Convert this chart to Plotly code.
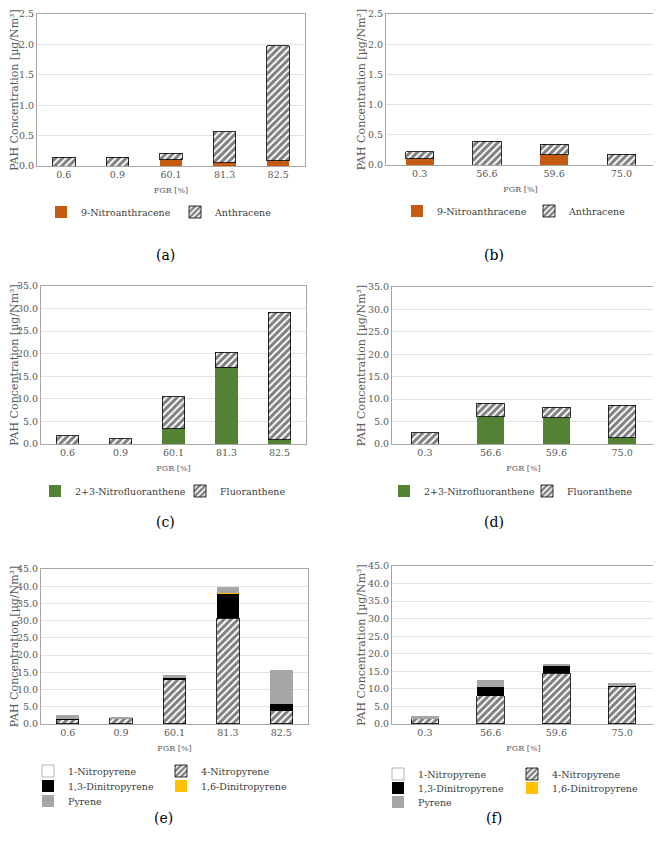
import plotly.graph_objects as go

# ---- data ----
fgr_left = ["0.6", "0.9", "60.1", "81.3", "82.5"]
fgr_right = ["0.3", "56.6", "59.6", "75.0"]

nitroanthracene_a = [0, 0, 0.10, 0.05, 0.09]
anthracene_a = [0.14, 0.14, 0.11, 0.51, 1.89]
nitroanthracene_b = [0.10, 0, 0.17, 0]
anthracene_b = [0.12, 0.39, 0.17, 0.18]

nitrofluoranthene_c = [0, 0, 3.4, 17.0, 0.9]
fluoranthene_c = [1.8, 1.2, 7.1, 3.3, 28.3]
nitrofluoranthene_d = [0, 6.1, 5.9, 1.4]
fluoranthene_d = [2.5, 3.0, 2.3, 7.2]

nitropyrene1_e = [0.05, 0.05, 0.1, 0.1, 0.05]
nitropyrene4_e = [1.2, 1.6, 12.9, 30.6, 3.8]
dinitropyrene13_e = [0.1, 0.05, 0.5, 7.2, 2.0]
dinitropyrene16_e = [0, 0, 0, 0.2, 0]
pyrene_e = [1.2, 0.15, 0.7, 1.8, 9.8]

nitropyrene1_f = [0.05, 0.1, 0.1, 0.05]
nitropyrene4_f = [1.4, 7.9, 14.3, 10.6]
dinitropyrene13_f = [0.05, 2.4, 2.3, 0.4]
dinitropyrene16_f = [0, 0, 0.1, 0]
pyrene_f = [0.9, 2.0, 0.4, 0.5]

FONT = "DejaVu Serif"
GREY = "#595959"
W, H = 661, 843
OFF = 8  # page body margin

hatch = dict(color="white",
             pattern=dict(shape="/", fgcolor="black", bgcolor="white", size=5, solidity=0.6),
             line=dict(color="black", width=0.8))


def solid(c, lc=None, lw=0):
    return dict(color=c, line=dict(color=lc or c, width=lw))


def px_x(v):
    return (v - OFF) / W


def px_y(v):
    return 1 - (v - OFF) / H


fig = go.Figure()

# panel boxes in page pixels: left, right, top, bottom
boxes = {
    1: (37, 305, 14, 166),
    2: (386, 655, 14, 165),
    3: (41, 306, 286, 444),
    4: (392, 655, 287, 444),
    5: (41, 308, 569, 724),
    6: (392, 655, 566, 724),
}
ranges = {1: 2.5, 2: 2.5, 3: 35, 4: 35, 5: 45, 6: 45}
dticks = {1: 0.5, 2: 0.5, 3: 5, 4: 5, 5: 5, 6: 5}

for i, (l, r, t, b) in boxes.items():
    sfx = "" if i == 1 else str(i)
    fig.layout["xaxis" + sfx] = dict(
        domain=[px_x(l), px_x(r)], anchor="y" + sfx, type="category",
        showline=True, linecolor="#A6A6A6", mirror=True, ticks="",
        tickfont=dict(family=FONT, size=9.5, color=GREY),
        title=dict(text="FGR [%]", font=dict(family=FONT, size=8, color=GREY), standoff=7),
        showgrid=False, zeroline=False, automargin=False,
    )
    fig.layout["yaxis" + sfx] = dict(
        domain=[px_y(b), px_y(t)], anchor="x" + sfx, range=[0, ranges[i]], dtick=dticks[i],
        tickformat=".1f", showline=True, linecolor="#A6A6A6", mirror=True, ticks="",
        gridcolor="#E3E3E3", gridwidth=1, zeroline=False, ticklabeloverflow="allow",
        tickfont=dict(family=FONT, size=9.5, color=GREY),
        title=dict(text="PAH Concentration [µg/Nm³]",
                   font=dict(family=FONT, size=11, color=GREY), standoff=0),
        automargin=False,
    )


def add(i, x, y, name, marker, legend):
    sfx = "" if i == 1 else str(i)
    fig.add_trace(go.Bar(x=x, y=y, name=name, marker=marker, xaxis="x" + sfx, yaxis="y" + sfx,
                         legend=legend, width=0.42))


ORANGE = "#C55A11"
GREEN = "#548235"
GOLD = "#FFC000"
PGREY = "#A6A6A6"

add(1, fgr_left, nitroanthracene_a, "9-Nitroanthracene", solid(ORANGE), "legend")
add(1, fgr_left, anthracene_a, "Anthracene", hatch, "legend")
add(2, fgr_right, nitroanthracene_b, "9-Nitroanthracene", solid(ORANGE), "legend2")
add(2, fgr_right, anthracene_b, "Anthracene", hatch, "legend2")
add(3, fgr_left, nitrofluoranthene_c, "2+3-Nitrofluoranthene", solid(GREEN), "legend3")
add(3, fgr_left, fluoranthene_c, "Fluoranthene", hatch, "legend3")
add(4, fgr_right, nitrofluoranthene_d, "2+3-Nitrofluoranthene", solid(GREEN), "legend4")
add(4, fgr_right, fluoranthene_d, "Fluoranthene", hatch, "legend4")

# pyrene series: name, marker, legend row
py_series = [
    ("1-Nitropyrene", solid("white", "#7F7F7F", 0.6), 0),
    ("4-Nitropyrene", hatch, 0),
    ("1,3-Dinitropyrene", solid("black"), 1),
    ("1,6-Dinitropyrene", solid(GOLD), 1),
    ("Pyrene", solid(PGREY), 2),
]
vals_e = [nitropyrene1_e, nitropyrene4_e, dinitropyrene13_e, dinitropyrene16_e, pyrene_e]
vals_f = [nitropyrene1_f, nitropyrene4_f, dinitropyrene13_f, dinitropyrene16_f, pyrene_f]
for (name, mk, row), ve, vf in zip(py_series, vals_e, vals_f):
    add(5, fgr_left, ve, name, mk, "legend" + str(5 + row))
    add(6, fgr_right, vf, name, mk, "legend" + str(8 + row))


def leg(xp, yp, ew):
    return dict(x=px_x(xp), y=px_y(yp), xanchor="left", yanchor="middle", orientation="h",
                entrywidth=ew, entrywidthmode="pixels", bgcolor="rgba(0,0,0,0)",
                font=dict(family=FONT, size=9.5, color="#404040"), traceorder="normal",
                itemclick=False, itemdoubleclick=False, tracegroupgap=0)


fig.update_layout(
    legend=leg(41, 212, 89),
    legend2=leg(397, 211, 87),
    legend3=leg(35, 491, 100),
    legend4=leg(384, 491, 98),
    legend5=leg(28, 771, 88),
    legend6=leg(28, 786, 88),
    legend7=leg(28, 801, 88),
    legend8=leg(378, 774, 89),
    legend9=leg(378, 788, 89),
    legend10=leg(378, 802, 89),
)

for lab, xp, yp in [("(a)", 154, 245), ("(b)", 506, 245), ("(c)", 154, 522),
                    ("(d)", 506, 522), ("(e)", 152, 828), ("(f)", 504, 828)]:
    fig.add_annotation(text=lab, x=px_x(xp), y=px_y(yp), xref="paper", yref="paper",
                       showarrow=False, font=dict(family=FONT, size=14, color="black"))

fig.update_layout(
    width=W, height=H, margin=dict(l=0, r=0, t=0, b=0, autoexpand=False),
    barmode="stack", paper_bgcolor="white", plot_bgcolor="white",
    font=dict(family=FONT),
)

fig.write_html("out.html")
